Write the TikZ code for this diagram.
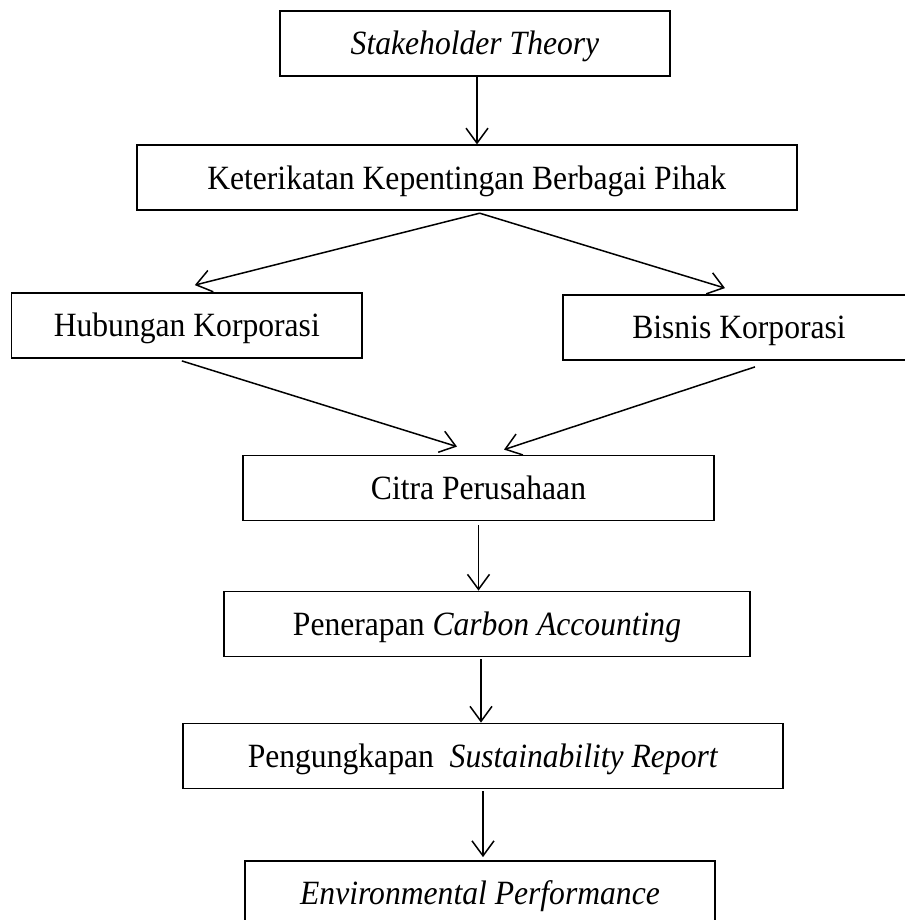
\documentclass[tikz,border=0pt]{standalone}
\usepackage{fontspec}
\setmainfont{Liberation Serif}[FakeStretch=0.93]
\usetikzlibrary{arrows.meta,calc}
\begin{document}
\begin{tikzpicture}[x=1pt,y=-1pt,
  box/.style={draw=black,line width=1.8pt,rectangle,inner sep=0pt,
    text height=22.5pt,text depth=0pt,minimum height=65pt,
    font=\fontsize{34}{40}\selectfont},
  conn/.style={line width=1.5pt,-{Straight Barb[length=15pt,width=22pt,line width=1.5pt]}}
]
\useasboundingbox (0,0) rectangle (904,920);
\node[box,minimum width=390pt] (b1) at (475,43.5) {\textit{Stakeholder Theory}};
\node[box,minimum width=660pt] (b2) at (466.7,177.8) {Keterikatan Kepentingan Berbagai Pihak};
\node[box,minimum width=350.5pt] (hub) at (186.8,325.5) {Hubungan Korporasi};
\node[box,minimum width=352pt] (bis) at (739,327.5) {Bisnis Korporasi};
\node[box,minimum width=471pt] (cit) at (478.5,488) {Citra Perusahaan};
\node[box,minimum width=525.5pt] (pen) at (487,624) {Penerapan \textit{Carbon Accounting}};
\node[box,minimum width=600pt] (png) at (483,756) {Pengungkapan\ \ \textit{Sustainability Report}};
\node[box,minimum width=470pt] (env) at (480,893.5) {\textit{Environmental Performance}};

\coordinate (s1) at ($(b1.south)+(2,0)$);
\draw[conn] (s1) -- (s1 |- b2.north);
\coordinate (s2) at ($(b2.south)+(13,2)$);
\draw[conn] (s2) -- ($(hub.north)+(8,-7)$);
\draw[conn] (s2) -- ($(bis.north)+(-14,-6)$);
\draw[conn] ($(hub.south)+(-5,2)$) -- ($(cit.north)+(-21.5,-8)$);
\draw[conn] ($(bis.south)+(16,6)$) -- ($(cit.north)+(25.5,-5)$);
\draw[conn] ($(cit.south)+(0,4)$) -- (cit.south |- pen.north);
\coordinate (s5) at ($(pen.south)+(-6,2)$);
\draw[conn] (s5) -- (s5 |- png.north);
\coordinate (s6) at ($(png.south)+(0,2)$);
\draw[conn] (s6) -- ($(s6 |- env.north)+(0,-3)$);
\end{tikzpicture}
\end{document}
